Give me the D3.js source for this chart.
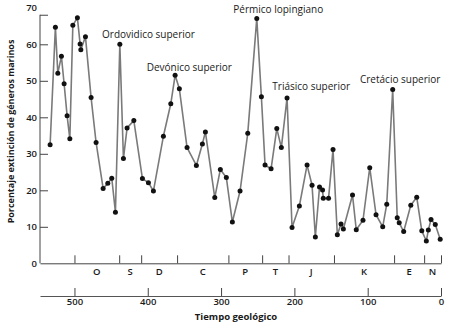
<!DOCTYPE html>
<html><head><meta charset="utf-8">
<script src="https://cdn.jsdelivr.net/npm/d3@7"></script>
<style>
body{margin:0;background:#fff;}
svg{display:block;font-family:"Open Sans",sans-serif;}
</style></head>
<body>
<svg id="c" width="450" height="329"></svg>
<script>
// Age (Ma) of each sample
const ages = [533.2,526.0,522.7,517.8,514.1,510.0,506.3,502.2,496.0,492.3,491.3,485.0,477.3,470.5,460.9,454.5,449.1,444.1,438.1,433.2,428.2,419.0,407.3,399.1,392.3,378.7,368.6,362.7,356.9,346.4,333.7,325.5,321.4,308.6,301.0,292.8,284.6,274.1,263.6,251.3,245.0,240.0,231.8,224.0,217.8,210.0,203.2,193.2,182.7,175.9,171.4,165.7,161.6,160.6,153.4,147.3,141.4,136.4,133.2,120.7,115.6,106.4,97.2,88.6,79.5,74.0,65.9,59.7,57.0,50.9,41.2,33.1,26.2,20.0,17.3,13.6,7.8,1.1];
// Percent extinction of marine genera
const extinction = [32.5,64.7,52.1,56.7,49.2,40.4,34.1,65.2,67.3,60.1,58.5,62.1,45.4,33.1,20.5,21.9,23.3,14.0,60.0,28.7,37.1,39.1,23.2,22.1,19.8,34.8,43.7,51.5,47.8,31.7,26.8,32.7,36.0,18.0,25.7,23.5,11.3,19.8,35.6,67.1,45.6,26.9,25.9,36.9,31.7,45.3,9.8,15.7,26.9,21.4,7.2,20.9,20.1,17.8,17.8,31.2,7.8,10.8,9.4,18.7,9.2,11.8,26.2,13.3,10.0,16.2,47.6,12.5,11.1,8.7,15.9,18.1,8.9,6.1,9.1,12.0,10.6,6.6];
// Annotated extinction events
const eventNames = ["Ordovidico superior","Devónico superior","Pérmico lopingiano","Triásico superior","Cretácio superior"];
const eventAges = [462.4, 401.5, 283.3, 230.1, 110.5];
const eventValues = [61.8, 52.6, 68.7, 47.6, 49.5];
// Geologic periods
const periodNames = ["O","S","D","C","P","T","J","K","E","N"];
const periodBounds = [500,439,409,360,290,244,208,146,64,23,0];
// Tick labels
const yTicks = [0,10,20,30,40,50,60,70];
const timeTicks = [500,400,300,200,100,0];

const svg = d3.select("#c");
const x = d3.scaleLinear().domain([547,0]).range([40,441]);
const y = d3.scaleLinear().domain([0,70]).range([263.3,7.8]);
const txt = "#1a1a1a";

// Y axis
const ya = svg.append("g").attr("transform","translate(40,0)")
  .call(d3.axisLeft(y).tickValues(yTicks).tickSizeInner(-8).tickSizeOuter(0).tickPadding(3));
ya.select(".domain").remove();
ya.selectAll(".tick line").attr("stroke","#444").attr("stroke-width",1);
ya.selectAll(".tick").filter(d=>d===0).select("line").remove();
ya.selectAll(".tick").filter(d=>d===70).select("line").attr("transform",`translate(0,${y(68.1)-y(70)})`);
ya.selectAll("text").attr("fill",txt).style("font-size","9.5px").style("font-weight","600").style("font-family","'Open Sans',sans-serif");
svg.append("line").attr("x1",40).attr("x2",40).attr("y1",y(0)).attr("y2",y(68.1)).attr("stroke","#444");

// Period axis
const pa = svg.append("g").attr("transform",`translate(0,${y(0)})`)
  .call(d3.axisBottom(x).tickValues(periodBounds).tickSizeInner(-8).tickSizeOuter(0).tickFormat(""));
pa.select(".domain").attr("stroke","#444");
pa.selectAll(".tick line").attr("stroke","#444");
svg.append("g").selectAll("text").data(periodNames).join("text")
  .attr("x",(d,i)=>x((periodBounds[i]+periodBounds[i+1])/2))
  .attr("y",275).attr("text-anchor","middle").attr("fill",txt)
  .style("font-size","9.5px").style("font-weight","600").text(d=>d);

// Time axis
const ta = svg.append("g").attr("transform","translate(0,296)")
  .call(d3.axisBottom(x).tickValues(timeTicks).tickSizeInner(-8).tickSizeOuter(0).tickPadding(4));
ta.select(".domain").attr("stroke","#555").attr("stroke-width",1.2);
ta.selectAll(".tick line").attr("stroke","#444");
ta.selectAll("text").attr("fill",txt).style("font-size","9.5px").style("font-weight","600").style("font-family","'Open Sans',sans-serif").attr("dy","0.55em");

svg.append("text").attr("x",236).attr("y",320).attr("text-anchor","middle")
  .attr("fill",txt).style("font-size","9.5px").style("font-weight","700").text("Tiempo geológico");
svg.append("text").attr("transform","translate(13.5,131.5) rotate(-90)").attr("text-anchor","middle")
  .attr("fill",txt).style("font-size","9px").style("font-weight","700").text("Porcentaje extinción de géneros marinos");

// Series
const pts = ages.map((a,i)=>[a,extinction[i]]);
svg.append("path").datum(pts)
  .attr("d",d3.line().x(d=>x(d[0])).y(d=>y(d[1])))
  .attr("fill","none").attr("stroke","#7a7a7a").attr("stroke-width",1.6).attr("stroke-linejoin","round");
svg.append("g").selectAll("circle").data(pts).join("circle")
  .attr("cx",d=>x(d[0])).attr("cy",d=>y(d[1])).attr("r",2.5).attr("fill","#111");

// Event labels
svg.append("g").selectAll("text").data(eventNames).join("text")
  .attr("x",(d,i)=>x(eventAges[i])).attr("y",(d,i)=>y(eventValues[i]))
  .attr("fill",txt).style("font-size","10px").text(d=>d);
</script>
</body></html>
